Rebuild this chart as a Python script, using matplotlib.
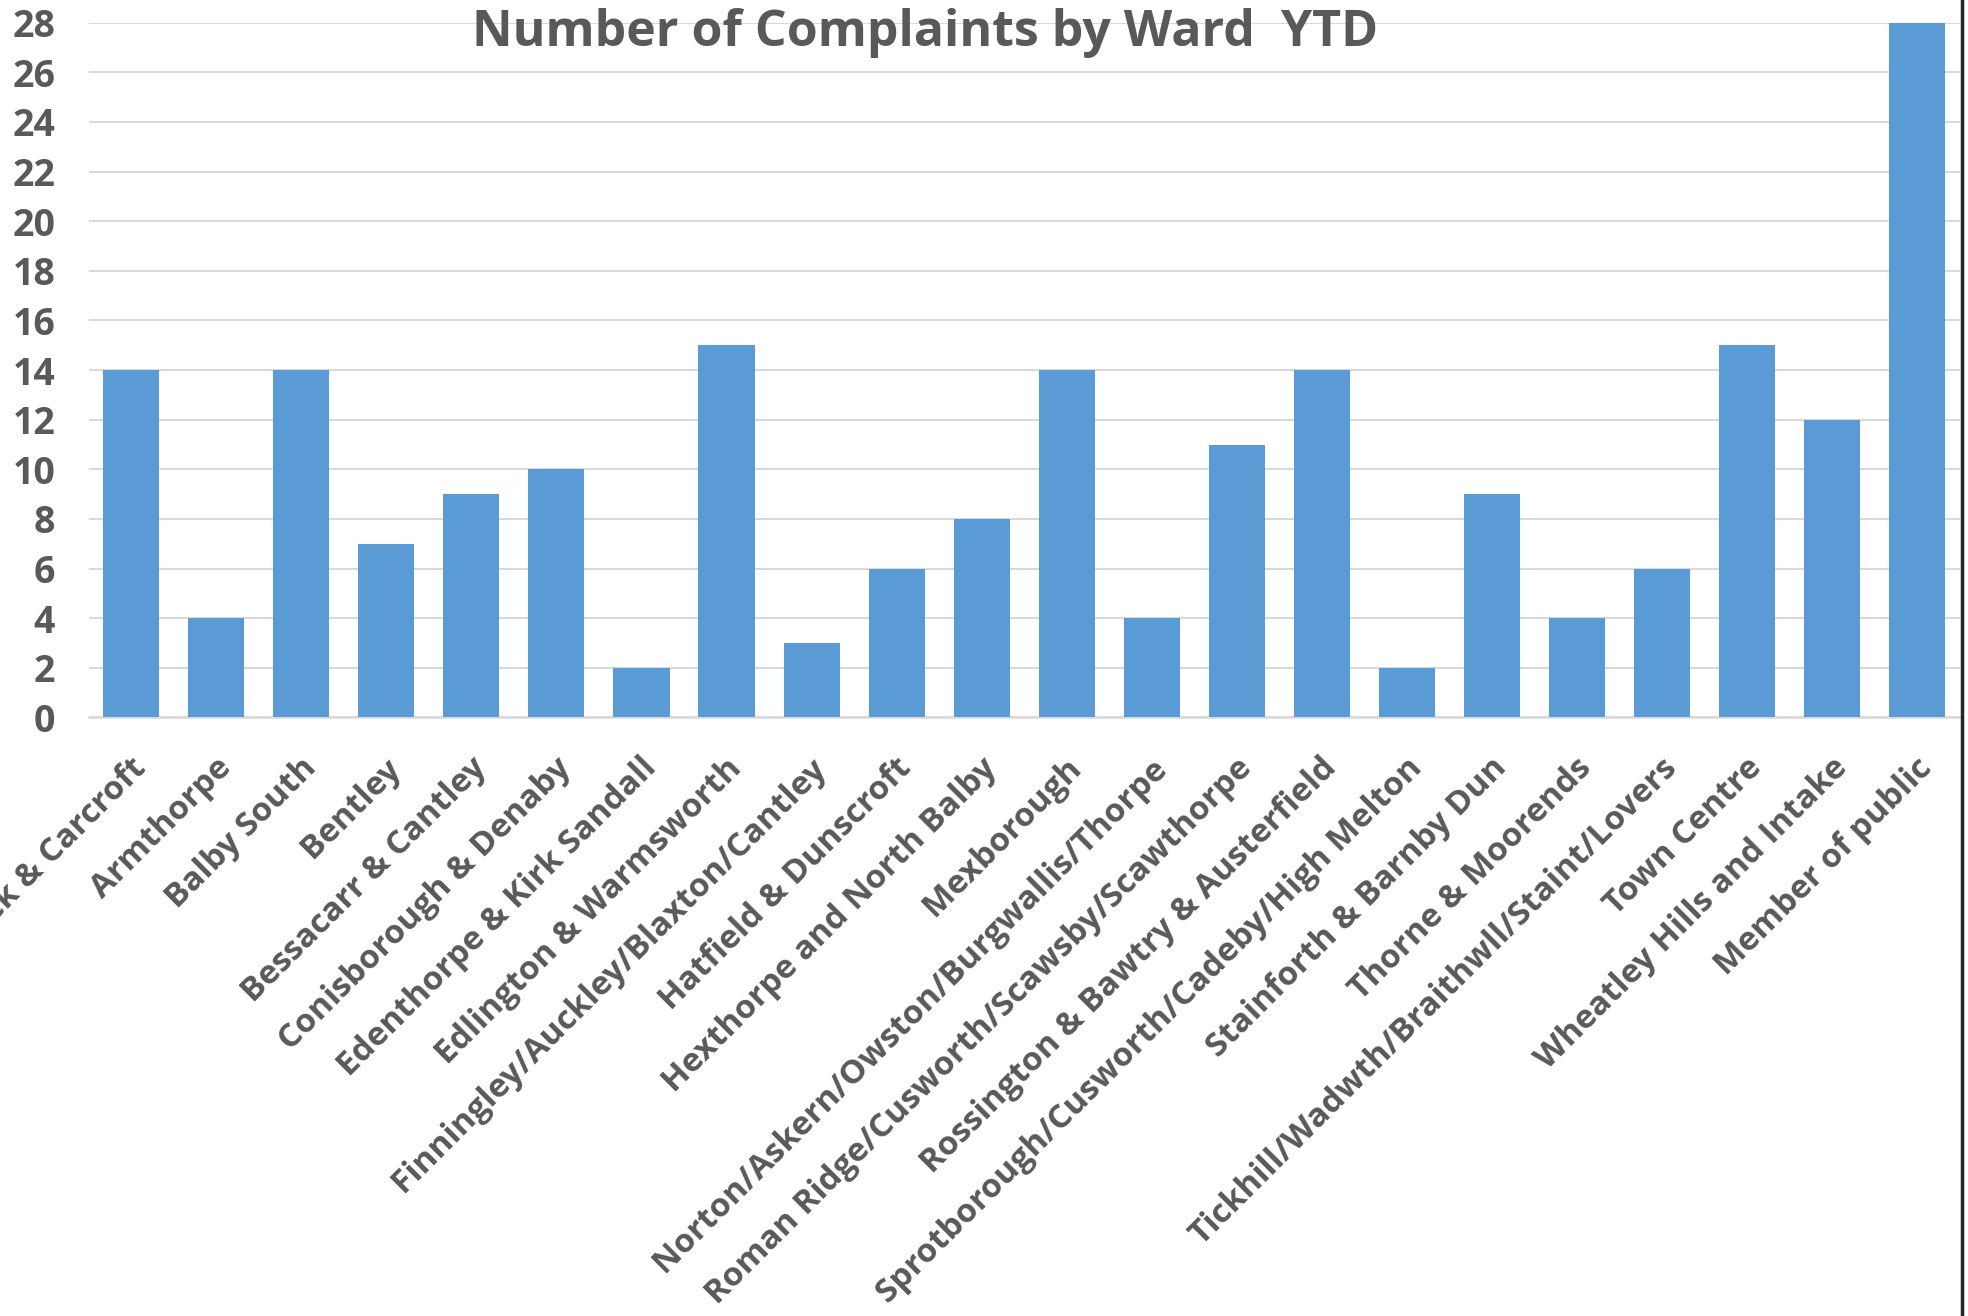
import matplotlib
matplotlib.use("Agg")
import matplotlib.pyplot as plt
from matplotlib.lines import Line2D
from matplotlib.transforms import ScaledTranslation

# ward names and year-to-date complaint counts
wards = [
    "Adwick & Carcroft",
    "Armthorpe",
    "Balby South",
    "Bentley",
    "Bessacarr & Cantley",
    "Conisborough & Denaby",
    "Edenthorpe & Kirk Sandall",
    "Edlington & Warmsworth",
    "Finningley/Auckley/Blaxton/Cantley",
    "Hatfield & Dunscroft",
    "Hexthorpe and North Balby",
    "Mexborough",
    "Norton/Askern/Owston/Burgwallis/Thorpe",
    "Roman Ridge/Cusworth/Scawsby/Scawthorpe",
    "Rossington & Bawtry & Austerfield",
    "Sprotborough/Cusworth/Cadeby/High Melton",
    "Stainforth & Barnby Dun",
    "Thorne & Moorends",
    "Tickhill/Wadwth/Braithwll/Staint/Lovers",
    "Town Centre",
    "Wheatley Hills and Intake",
    "Member of public",
]
complaints = [14, 4, 14, 7, 9, 10, 2, 15, 3, 6, 8, 14, 4, 11, 14, 2, 9, 4, 6, 15, 12, 28]
y_ticks = list(range(0, 29, 2))

text_color = "#595959"
bar_color = "#5b9bd5"
grid_color = "#d9d9d9"
font = "Open Sans"

fig = plt.figure(figsize=(19.68, 13.16), dpi=100)
ax = fig.add_axes([0.045, 0.4548, 0.9509, 0.5280])

x = range(len(wards))
ax.bar(x, complaints, width=0.66, color=bar_color, zorder=3)

ax.set_xlim(-0.5, len(wards) - 0.5)
ax.set_ylim(0, 28)
ax.set_yticks(y_ticks)
ax.set_yticklabels([str(t) for t in y_ticks], fontsize=27, fontweight="bold",
                   color=text_color, family=font)
ax.set_xticks(list(x))
ax.set_xticklabels(wards, rotation=45, ha="right", va="center",
                   rotation_mode="anchor", fontsize=24, fontweight="bold",
                   color=text_color, family=font)
ax.tick_params(axis="y", length=0, pad=24)
ax.tick_params(axis="x", length=0, pad=33)

# nudge the slanted labels a little to the right, as in the original
shift = ScaledTranslation(10 / 100, 0, fig.dpi_scale_trans)
for lbl in ax.get_xticklabels():
    lbl.set_transform(lbl.get_transform() + shift)

ax.grid(axis="y", color=grid_color, linewidth=1.5, zorder=0)
for side in ["left", "right", "top"]:
    ax.spines[side].set_visible(False)
ax.spines["bottom"].set_color(grid_color)
ax.spines["bottom"].set_linewidth(1.8)

fig.text(0.470, 1 - 46 / 1316, "Number of Complaints by Ward  YTD",
         ha="center", va="baseline", fontsize=36, fontweight="bold",
         color=text_color, family=font)

# dark frame edge on the right
fig.add_artist(Line2D([1962 / 1968, 1962 / 1968], [0, 1], color="#262626",
                      linewidth=2.5, transform=fig.transFigure))

fig.savefig("out.png", dpi=100)
